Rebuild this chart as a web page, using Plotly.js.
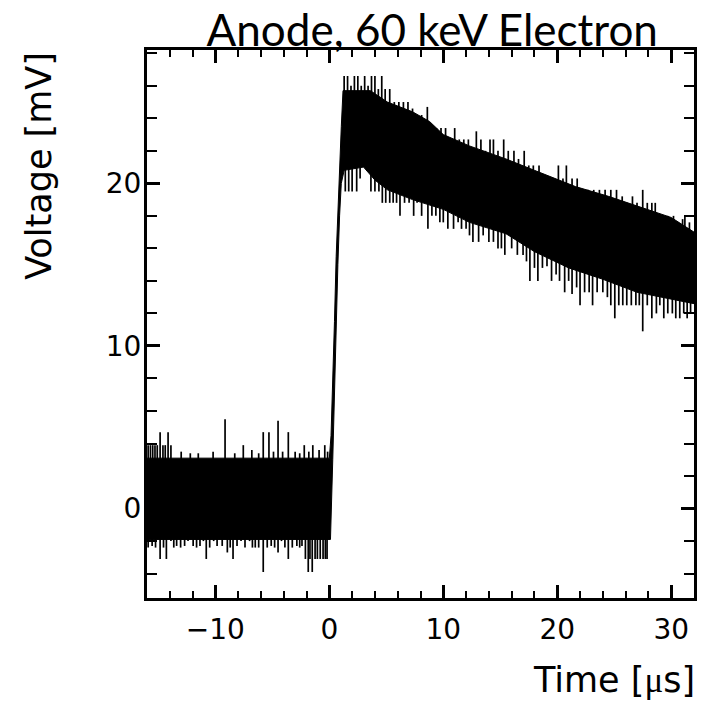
<!DOCTYPE html>
<html>
<head>
<meta charset="utf-8">
<script src="https://cdn.plot.ly/plotly-3.0.1.min.js"></script>
<style>html,body{margin:0;padding:0;background:#fff;}</style>
</head>
<body>
<div id="chart" style="width:704px;height:704px;"></div>
<script>
// ---- Data (time in µs, voltage in mV) ----
// Upper edge of the dense noise band
const hiT = [-16, 0.0, 0.15, 0.3, 0.45, 0.6, 0.75, 0.9, 1.05, 1.2, 3.6, 5.1, 7.3, 8.8, 10.0, 12.3, 15.5, 18.0, 21.6, 24.5, 27.0, 30.0, 32];
const hiV = [3.1, 3.1, 4.5, 7.5, 11.5, 15.5, 18.5, 21.3, 23.5, 25.7, 25.7, 25.0, 24.4, 23.8, 23.0, 22.3, 21.5, 20.8, 19.8, 19.2, 18.6, 17.9, 17.0];
// Lower edge of the dense noise band
const loT = [-16, 0.1, 0.3, 0.45, 0.6, 0.75, 0.9, 1.05, 1.3, 3.0, 4.0, 5.1, 7.3, 10.0, 12.3, 15.5, 18.0, 21.0, 24.0, 27.0, 32];
const loV = [-1.9, -1.9, 3.0, 7.5, 11.5, 15.0, 18.0, 20.0, 20.8, 21.0, 20.2, 19.6, 19.0, 18.4, 17.6, 16.9, 15.8, 14.8, 14.1, 13.3, 12.6];
// Upward noise spikes (time, tip value)
const upT = [-15.9, -15.7, -15.5, -15.3, -15.1, -14.85, -14.6, -14.4, -14.15, -13.9, -13.0, -12.2, -11.5, -10.2, -9.15, -8.3, -7.55, -6.8, -6.2, -5.8, -5.3, -4.9, -4.5, -4.1, -3.6, -3.0, -2.6, -2.2, -1.8, -1.45, -0.9, -0.4, -0.15,
             1.3, 1.6, 1.9, 2.2, 2.5, 2.8, 3.1, 3.4, 3.7, 4.0, 4.3, 4.6, 4.9, 5.3, 5.7, 6.1, 6.5, 6.9, 7.3, 7.7, 8.1, 8.6, 9.0, 9.4, 9.8, 10.2, 10.6, 11.0, 11.4, 11.8, 12.2, 12.9,
             13.3, 13.7, 14.1, 14.4, 14.8, 15.3, 15.7, 16.2, 16.6, 17.1, 17.5, 17.9, 18.4, 18.8, 19.3, 19.7, 20.1, 20.5, 20.8, 21.3, 21.75, 22.2, 22.7, 23.2, 23.7, 24.2,
             24.7, 25.2, 25.7, 26.1, 26.6, 27.0, 27.5, 27.9, 28.3, 28.6, 29.0, 29.3, 29.7, 30.2, 30.6, 31.0, 31.2, 31.6];
const upV = [3.9, 3.9, 3.9, 3.9, 3.9, 4.7, 3.9, 3.9, 4.7, 3.9, 3.5, 3.4, 3.4, 3.5, 5.5, 3.4, 3.9, 3.6, 3.4, 4.7, 4.7, 3.5, 5.4, 3.5, 4.7, 3.5, 3.4, 3.9, 3.5, 3.9, 3.6, 3.9, 3.5,
             26.6, 26.6, 26.0, 26.6, 26.6, 26.0, 26.6, 26.0, 26.6, 26.6, 25.8, 26.6, 25.8, 25.8, 25.0, 25.0, 25.0, 25.0, 24.6, 24.2, 24.2, 24.7, 23.4, 23.4, 23.4, 23.4, 22.7, 23.4, 22.7, 22.7, 22.7, 23.2,
             22.7, 22.0, 22.7, 22.7, 22.0, 22.7, 22.0, 22.0, 21.5, 22.0, 21.1, 21.1, 21.1, 20.3, 20.3, 20.3, 21.1, 20.3, 21.1, 20.3, 20.3, 19.6, 19.6, 19.6, 19.6, 19.6,
             19.6, 19.6, 19.2, 18.8, 19.2, 18.8, 19.6, 18.8, 18.8, 18.8, 18.0, 18.0, 18.0, 18.0, 17.6, 17.8, 18.0, 17.6];
// Downward noise spikes (time, tip value)
const dnT = [-15.9, -15.55, -15.25, -14.85, -14.55, -14.3, -13.9, -13.65, -13.4, -13.05, -12.7, -12.4, -11.95, -11.65, -11.35, -11.05, -10.8, -10.5, -10.15, -9.85, -9.4, -8.95, -8.7, -8.45, -8.1, -7.75,
             -7.4, -7.0, -6.75, -6.5, -6.2, -5.8, -5.45, -5.1, -4.8, -4.5, -4.2, -3.9, -3.6, -3.25, -2.85, -2.6, -2.4, -2.1, -1.85, -1.7, -1.5, -1.25, -1.05, -0.8, -0.55, -0.35, -0.2,
             1.4, 1.7, 2.0, 2.4, 2.7, 3.65, 4.0, 4.35, 4.65, 4.95, 5.3, 5.6, 5.9, 6.2, 6.6, 7.0, 7.4, 7.7, 8.1, 8.65, 9.0, 9.35, 9.7, 10.0, 10.4, 10.9, 11.3, 11.6, 12.0, 12.3, 12.6,
             13.1, 13.5, 14.0, 14.4, 14.8, 15.1, 15.4, 16.0, 16.5, 17.0, 17.3, 17.6, 18.0, 18.3, 18.7, 19.1, 19.5, 19.9, 20.2, 20.65, 21.0, 21.3, 21.7, 22.0, 22.4, 22.8, 23.1,
             23.5, 24.0, 24.4, 24.7, 25.05, 25.4, 25.75, 26.1, 26.5, 26.9, 27.2, 27.5, 27.9, 28.3, 28.7, 29.0, 29.35, 29.7, 30.1, 30.4, 30.75, 31.1, 31.4, 31.7];
const dnV = [-2.4, -2.3, -2.4, -3.1, -2.4, -3.1, -2.0, -2.4, -2.3, -2.4, -2.3, -2.0, -2.3, -2.4, -2.3, -2.0, -3.1, -2.4, -2.0, -2.3, -2.3, -2.7, -2.4, -3.1, -2.3, -2.0,
             -2.4, -2.0, -2.4, -2.4, -2.4, -3.9, -2.4, -2.3, -2.4, -2.7, -2.0, -2.4, -3.1, -2.4, -2.3, -2.4, -2.3, -3.1, -3.9, -3.1, -3.9, -3.1, -3.1, -3.1, -3.1, -3.1, -3.1,
             19.5, 19.5, 19.5, 19.5, 20.3, 19.5, 19.5, 19.5, 18.8, 18.8, 18.8, 18.8, 18.8, 18.0, 18.8, 18.8, 18.0, 18.8, 18.0, 17.2, 18.0, 18.0, 17.6, 17.6, 17.2, 17.2, 17.6, 17.2, 17.2, 16.8, 16.4,
             16.4, 16.8, 16.4, 16.4, 16.0, 16.0, 15.6, 16.0, 15.6, 15.6, 15.2, 14.0, 14.8, 14.0, 14.8, 14.9, 14.0, 14.4, 14.0, 13.3, 14.0, 13.2, 13.6, 12.5, 13.3, 13.3, 12.5,
             13.3, 13.3, 13.0, 12.5, 11.7, 12.5, 12.5, 12.5, 12.5, 12.5, 12.5, 10.9, 12.5, 11.7, 12.0, 12.5, 11.7, 12.0, 12.0, 11.7, 11.7, 12.0, 11.7, 12.0];

// ---- Build traces ----
function edgeAt(T, V, t) {
  for (let i = 0; i < T.length - 1; i++) {
    if (t >= T[i] && t <= T[i + 1]) {
      const f = (t - T[i]) / (T[i + 1] - T[i]);
      return V[i] + f * (V[i + 1] - V[i]);
    }
  }
  return V[V.length - 1];
}
const bandX = hiT.concat(loT.slice().reverse());
const bandY = hiV.concat(loV.slice().reverse());

const spX = [], spY = [];
function addSpikes(T, V) {
  for (let i = 0; i < T.length; i++) {
    const mid = (edgeAt(hiT, hiV, T[i]) + edgeAt(loT, loV, T[i])) / 2;
    spX.push(T[i], T[i], null);
    spY.push(mid, V[i], null);
  }
}
addSpikes(upT, upV);
addSpikes(dnT, dnV);

const traces = [
  {x: bandX, y: bandY, type: 'scatter', mode: 'lines', fill: 'toself',
   fillcolor: '#000', line: {color: '#000', width: 1}, hoverinfo: 'skip', showlegend: false},
  {x: spX, y: spY, type: 'scatter', mode: 'lines', connectgaps: false,
   line: {color: '#000', width: 1.7}, hoverinfo: 'skip', showlegend: false}
];

const tickFont = {family: 'DejaVu Sans, sans-serif', size: 28, color: '#000'};
const axisCommon = {
  showline: true, linecolor: '#000', linewidth: 3, mirror: 'ticks',
  ticks: 'inside', ticklen: 13, tickwidth: 3, tickcolor: '#000',
  showgrid: false, zeroline: false, tickfont: tickFont, tickmode: 'linear', tick0: 0, dtick: 10
};

const layout = {
  width: 704, height: 704,
  margin: {l: 147, r: 10, t: 50, b: 106, pad: 0},
  paper_bgcolor: '#fff', plot_bgcolor: '#fff',
  showlegend: false,
  title: {text: 'Anode, 60 keV Electron', x: 0.614, xanchor: 'center', y: 0.957, yanchor: 'middle',
          xref: 'container', yref: 'container',
          font: {family: 'Lato, Open Sans, sans-serif', size: 44, color: '#000'}},
  xaxis: Object.assign({}, axisCommon, {range: [-16, 32], ticklabelstandoff: 4,
          minor: {ticks: 'inside', ticklen: 7, tickwidth: 2, tickcolor: '#000', showgrid: false, dtick: 2, tick0: 0}}),
  yaxis: Object.assign({}, axisCommon, {range: [-5.5, 28.2], ticklabelstandoff: -3,
          minor: {ticks: 'inside', ticklen: 10, tickwidth: 2, tickcolor: '#000', showgrid: false, dtick: 2, tick0: 0}}),
  annotations: [
    {text: 'Time [<span style="font-family:Liberation Serif">μ</span>s]', xref: 'paper', yref: 'paper',
     x: 1.006, y: -0.15, xanchor: 'right', yanchor: 'middle', showarrow: false,
     font: {family: 'DejaVu Sans, sans-serif', size: 35, color: '#000'}},
    {text: 'Voltage [mV]', xref: 'paper', yref: 'paper', textangle: -90,
     x: -0.198, y: 0.788, xanchor: 'center', yanchor: 'middle', showarrow: false,
     font: {family: 'DejaVu Sans, sans-serif', size: 35, color: '#000'}}
  ]
};

Plotly.newPlot('chart', traces, layout, {staticPlot: true, displayModeBar: false});
</script>
</body>
</html>
